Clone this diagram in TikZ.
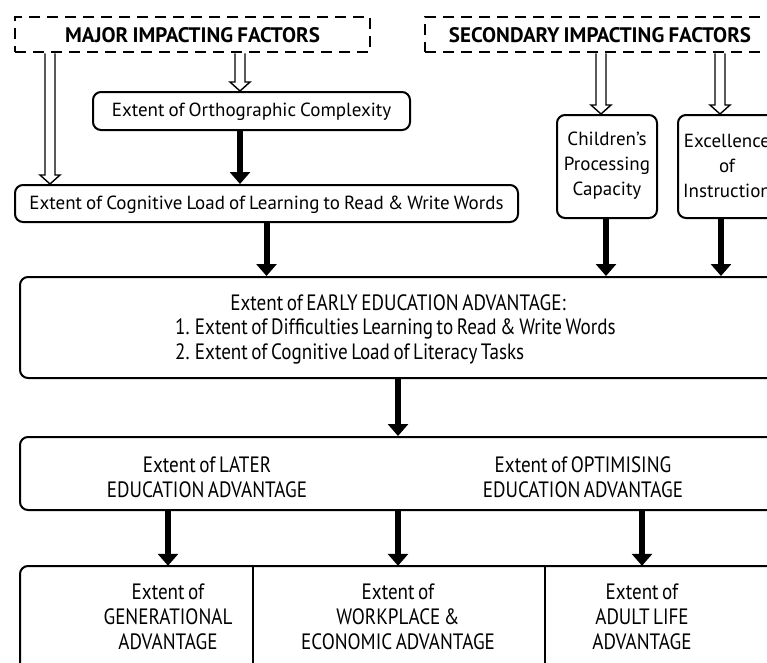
\documentclass[tikz,border=0pt]{standalone}
\usepackage{fontspec}
\setmainfont[WordSpace=0.8]{PT Sans}
\newfontfamily\condfont[FakeStretch=0.86,WordSpace=0.7]{PT Sans}
\usetikzlibrary{arrows.meta,calc}
\tikzset{
  box/.style={draw, line width=2pt, rounded corners=8pt, inner sep=0pt},
  dbox/.style={draw, line width=2.5pt, dash pattern=on 11pt off 7pt, inner sep=0pt},
  txt/.style={inner sep=0pt, align=center, font=\fontsize{19}{25}\selectfont},
  ctxt/.style={inner sep=0pt, align=center, font=\condfont\fontsize{22.2}{25}\selectfont},
  hdr/.style={inner sep=0pt, font=\fontsize{21}{22}\selectfont\bfseries},
  blk/.style={line width=6pt, -{Triangle[length=12pt,width=20pt]}},
  hollow/.style={draw, line width=1.4pt, fill=white, line join=miter},
}
\newcommand\harrow[2]{\draw[hollow] let \p1=#1, \p2=#2 in
  (\x1-5pt,\y1) -- (\x1-5pt,\y2+9pt) -- (\x1-10pt,\y2+9pt) -- (\x1,\y2)
  -- (\x1+10pt,\y2+9pt) -- (\x1+5pt,\y2+9pt) -- (\x1+5pt,\y1);}
\begin{document}
\begin{tikzpicture}[x=1pt,y=-1pt]
\useasboundingbox (0,0) rectangle (767,662);
\clip (0,0) rectangle (767,662);
\fill[white] (0,0) rectangle (767,662);
% x positions of connectors
\coordinate (xl) at (50,0);
\coordinate (xo) at (240,0);
\coordinate (xc) at (601,0);
\coordinate (xe) at (720,0);
\coordinate (xcb) at (606,0);
\coordinate (xeb) at (721,0);
% dashed header boxes
\node[dbox, minimum width=355pt, minimum height=35pt] (major) at (192.5,34.5) {};
\node[hdr] (majortxt) at (192.5,35) {MAJOR IMPACTING FACTORS};
\node[dbox, minimum width=375pt, minimum height=35pt] (sec) at (612.5,34.5) {};
\node[hdr] (sectxt) at (600,35) {SECONDARY IMPACTING FACTORS};
% first level boxes
\node[box, minimum width=317pt, minimum height=38pt] (ortho) at (251.5,111) {};
\node[txt] (orthotxt) at (251.5,112) {Extent of Orthographic Complexity};
\node[box, minimum width=503pt, minimum height=37pt] (cog) at (266.5,203.5) {};
\node[txt] (cogtxt) at (266.5,205) {Extent of Cognitive Load of Learning to Read \& Write Words};
\node[box, minimum width=100pt, minimum height=103pt] (child) at (607,166.5) {};
\node[txt] (childtxt) at (607,166) {Children's\\Processing\\Capacity};
\node[box, minimum width=122pt, minimum height=103pt] (excel) at (739,166.5) {};
\node[txt] (exceltxt) at (727,166) {Excellence\\of\\Instruction};
% early
\node[box, minimum width=780pt, minimum height=101pt] (early) at (410,327.5) {};
\node[ctxt] (earlyt) at (398,303) {Extent of EARLY EDUCATION ADVANTAGE:};
\node[ctxt, align=left, anchor=west] (earlyl) at (175,341.5) {1. Extent of Difficulties Learning to Read \& Write Words\\2. Extent of Cognitive Load of Literacy Tasks};
% later
\node[box, minimum width=780pt, minimum height=73pt] (later) at (410,473.5) {};
\node[ctxt] (latert) at (207,477) {Extent of LATER\\EDUCATION ADVANTAGE};
\node[ctxt] (optt) at (583,477) {Extent of OPTIMISING\\EDUCATION ADVANTAGE};
% bottom
\draw[line width=2pt, rounded corners=8pt] (20,720) -- (20,566) -- (800,566) -- (800,720);
\draw[line width=2pt] (253,566) -- (253,700) (545,566) -- (545,700);
\node[minimum width=233pt, minimum height=134pt, inner sep=0pt] (gen) at (136.5,633) {};
\node[minimum width=292pt, minimum height=134pt, inner sep=0pt] (work) at (399,633) {};
\node[minimum width=190pt, minimum height=134pt, inner sep=0pt] (adult) at (642,633) {};
\node[ctxt] (gent) at (168,617) {Extent of\\GENERATIONAL\\ADVANTAGE};
\node[ctxt] (workt) at (398,617) {Extent of\\WORKPLACE \&\\ECONOMIC ADVANTAGE};
\node[ctxt] (adultt) at (642,617) {Extent of\\ADULT LIFE\\ADVANTAGE};
% hollow arrows
\harrow{(major.south -| xl)}{(cog.north -| xl)}
\harrow{(major.south -| xo)}{(ortho.north -| xo)}
\harrow{(sec.south -| xc)}{(child.north -| xc)}
\harrow{(sec.south -| xe)}{(excel.north -| xe)}
% black arrows
\draw[blk] (ortho.south -| xo) -- (cog.north -| xo);
\draw[blk] (cog.south) -- (cog.south |- early.north);
\draw[blk] (child.south -| xcb) -- (early.north -| xcb);
\draw[blk] (excel.south -| xeb) -- (early.north -| xeb);
\draw[blk] (early.south -| earlyt) -- (later.north -| earlyt);
\draw[blk] (later.south -| gent) -- (gen.north -| gent);
\draw[blk] (later.south -| workt) -- (work.north -| workt);
\draw[blk] (later.south -| adultt) -- (adult.north -| adultt);
\end{tikzpicture}
\end{document}
